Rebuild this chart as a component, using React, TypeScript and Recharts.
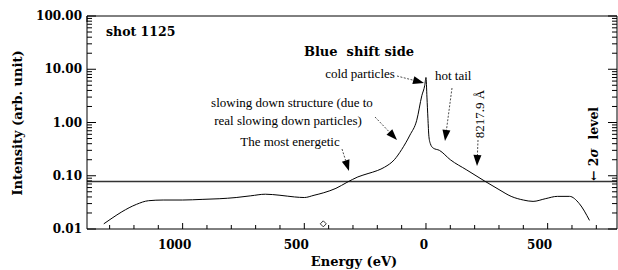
import React from "react";
import {
  ComposedChart,
  Line,
  Scatter,
  XAxis,
  YAxis,
  ReferenceLine,
} from "recharts";

// energy (eV, blue side negative) and intensity (arb. unit)
const energy = [
  -1324, -1290, -1250, -1190, -1140, -1080, -1000, -920, -850, -780, -720,
  -660, -600, -540, -500, -460, -420, -370, -325, -280, -238, -200, -170,
  -130, -100, -66, -38, -17, -5, 0, 4, 8, 12, 18, 30, 55, 100, 168, 240, 300,
  350, 400, 440, 490, 540, 590, 630, 672,
];
const intensity = [
  0.0125, 0.016, 0.021, 0.029, 0.034, 0.035, 0.035, 0.036, 0.037, 0.039,
  0.042, 0.045, 0.043, 0.04, 0.039, 0.043, 0.048, 0.058, 0.075, 0.095, 0.11,
  0.125, 0.145, 0.2, 0.31, 0.58, 1.1, 3.2, 5.0, 7.0, 3.0, 1.2, 0.55, 0.4,
  0.33, 0.3, 0.2, 0.128, 0.08, 0.055, 0.041, 0.035, 0.033, 0.037, 0.041,
  0.041, 0.03, 0.0145,
];
const sigmaLevel = 0.078;
const marker = [{ e: -422, v: 0.0125 }];

const xTicks = [
  -1300, -1200, -1100, -1000, -900, -800, -700, -600, -500, -400, -300, -200,
  -100, 0, 100, 200, 300, 400, 500, 600, 700,
];
const yMajor = [0.01, 0.1, 1, 10, 100];
const yTicks = yMajor.flatMap((d) =>
  d === 100 ? [d] : [1, 2, 3, 4, 5, 6, 7, 8, 9].map((k) => +(k * d).toPrecision(3))
);

const data = energy.map((e, i) => ({ e, v: intensity[i] }));

const W = 618;
const H = 270;
const PL = 87;
const PR = 617;
const PT = 16;
const PB = 229;

const bold = { fontFamily: "'DejaVu Serif', serif", fontWeight: "bold" as const };
const times = { fontFamily: "'Liberation Serif', serif" };

const isMajorY = (v: number) => yMajor.some((m) => Math.abs(m - v) < 1e-9);

function LeftTick(p: any) {
  const y = p.y;
  const v = p.payload.value;
  const major = isMajorY(v);
  return (
    <g>
      <line x1={PL} x2={PL + (major ? 9 : 5)} y1={y} y2={y} stroke="#000" />
      {major && (
        <text x={PL - 5} y={y + 4} textAnchor="end" fontSize={12} fill="#000" style={bold}>
          {v.toFixed(2)}
        </text>
      )}
    </g>
  );
}

function RightTick(p: any) {
  const y = p.y;
  const major = isMajorY(p.payload.value);
  return <line x1={PR} x2={PR - (major ? 9 : 5)} y1={y} y2={y} stroke="#000" />;
}

function BottomTick(p: any) {
  const x = p.x;
  const v = p.payload.value;
  const major = v % 500 === 0;
  return (
    <g>
      <line x1={x} x2={x} y1={PB} y2={PB - (major ? 6 : 4)} stroke="#000" />
      {major && (
        <text x={x + (v === 0 ? -2 : -8)} y={PB + 20} textAnchor="middle" fontSize={12} fill="#000" style={bold}>
          {Math.abs(v)}
        </text>
      )}
    </g>
  );
}

function TopTick(p: any) {
  const x = p.x;
  const major = p.payload.value % 500 === 0;
  return <line x1={x} x2={x} y1={PT} y2={PT + (major ? 6 : 4)} stroke="#000" />;
}

function Diamond(p: any) {
  const { cx, cy } = p;
  return (
    <path
      d={`M${cx},${cy - 3}L${cx + 3},${cy}L${cx},${cy + 3}L${cx - 3},${cy}Z`}
      fill="none"
      stroke="#000"
      strokeWidth={0.8}
    />
  );
}

function Arrow({ x1, y1, x2, y2 }: { x1: number; y1: number; x2: number; y2: number }) {
  const dx = x2 - x1;
  const dy = y2 - y1;
  const len = Math.hypot(dx, dy);
  const ux = dx / len;
  const uy = dy / len;
  const hl = 11;
  const hw = 4;
  const bx = x2 - ux * hl;
  const by = y2 - uy * hl;
  return (
    <g>
      <line x1={x1} y1={y1} x2={bx} y2={by} stroke="#000" strokeWidth={0.7} strokeDasharray="2 1.5" />
      <path
        d={`M${x2},${y2}L${bx - uy * hw},${by + ux * hw}L${bx + uy * hw},${by - ux * hw}Z`}
        fill="#000"
      />
    </g>
  );
}

export default function App() {
  return (
    <div style={{ position: "absolute", left: 0, top: 0, width: W, height: H, background: "#fff" }}>
      <ComposedChart width={W} height={H} data={data} margin={{ top: 0, right: 0, bottom: 0, left: 0 }}>
        <XAxis
          xAxisId={0}
          dataKey="e"
          type="number"
          domain={[-1393, 785]}
          ticks={xTicks}
          interval={0}
          height={PB === 229 ? 41 : 41}
          tickLine={false}
          axisLine={{ stroke: "#000" }}
          tick={<BottomTick />}
        />
        <XAxis
          xAxisId="top"
          orientation="top"
          type="number"
          domain={[-1393, 785]}
          ticks={xTicks}
          interval={0}
          height={PT}
          tickLine={false}
          axisLine={{ stroke: "#000" }}
          tick={<TopTick />}
        />
        <YAxis
          yAxisId={0}
          scale="log"
          domain={[0.01, 100]}
          ticks={yTicks}
          interval={0}
          allowDataOverflow
          width={PL}
          tickLine={false}
          axisLine={{ stroke: "#000" }}
          tick={<LeftTick />}
        />
        <YAxis
          yAxisId="r"
          orientation="right"
          scale="log"
          domain={[0.01, 100]}
          ticks={yTicks}
          interval={0}
          allowDataOverflow
          width={W - PR}
          tickLine={false}
          axisLine={{ stroke: "#000" }}
          tick={<RightTick />}
        />
        <ReferenceLine y={sigmaLevel} stroke="#333" strokeWidth={1.3} />
        <Line
          dataKey="v"
          type="monotone"
          stroke="#000"
          strokeWidth={1}
          dot={false}
          isAnimationActive={false}
        />
        <Scatter data={marker} dataKey="v" shape={<Diamond />} isAnimationActive={false} />
      </ComposedChart>
      <svg
        width={W}
        height={H}
        style={{ position: "absolute", left: 0, top: 0, pointerEvents: "none" }}
      >
        <text x={106} y={36} fontSize={12.5} style={bold}>shot 1125</text>
        <text x={359} y={56} fontSize={13} textAnchor="middle" style={bold} xmlSpace="preserve">
          Blue  shift side
        </text>
        <text x={360} y={78} fontSize={13} textAnchor="middle" style={times}>cold particles</text>
        <text x={435} y={80} fontSize={13} style={times}>hot tail</text>
        <text x={292} y={107} fontSize={13} textAnchor="middle" style={times}>
          slowing down structure (due to
        </text>
        <text x={288} y={125} fontSize={13} textAnchor="middle" style={times}>
          real slowing down particles)
        </text>
        <text x={290} y={146} fontSize={13} textAnchor="middle" style={times}>The most energetic</text>
        <text
          x={484}
          y={114}
          fontSize={13}
          textAnchor="middle"
          style={times}
          transform="rotate(-90 484 114)"
        >
          8217.9 Å
        </text>
        <text
          x={598}
          y={181}
          fontSize={12.5}
          style={bold}
          transform="rotate(-90 598 181)"
          xmlSpace="preserve"
        >
          ← 2<tspan fontStyle="italic">σ</tspan>  level
        </text>
        <Arrow x1={397} y1={76} x2={424} y2={83} />
        <Arrow x1={375} y1={117} x2={397} y2={140} />
        <Arrow x1={342} y1={149} x2={349} y2={171} />
        <Arrow x1={452} y1={88} x2={445} y2={141} />
        <Arrow x1={478} y1={140} x2={477} y2={166} />
        <text
          x={22}
          y={123}
          fontSize={13}
          textAnchor="middle"
          style={bold}
          transform="rotate(-90 22 123)"
        >
          Intensity (arb. unit)
        </text>
        <text x={354} y={266} fontSize={13} textAnchor="middle" style={bold}>Energy (eV)</text>
      </svg>
    </div>
  );
}
